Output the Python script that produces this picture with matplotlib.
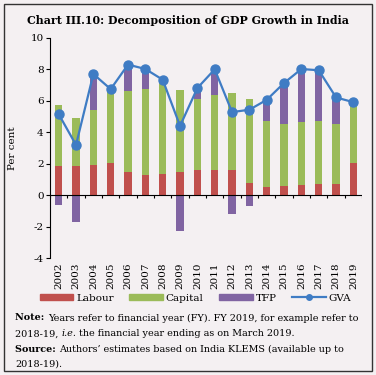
import numpy as np
import matplotlib
matplotlib.use('Agg')
import matplotlib.pyplot as plt
from matplotlib.patches import Rectangle, Patch
from matplotlib.lines import Line2D

plt.rcParams['font.family'] = ['DejaVu Serif']

# data (per cent)
years = ['2002', '2003', '2004', '2005', '2006', '2007', '2008', '2009', '2010',
         '2011', '2012', '2013', '2014', '2015', '2016', '2017', '2018', '2019']
labour = [1.87, 1.87, 1.91, 2.02, 1.49, 1.28, 1.34, 1.49, 1.60,
          1.60, 1.60, 0.74, 0.53, 0.60, 0.64, 0.70, 0.70, 2.06]
capital = [3.87, 3.03, 3.52, 4.58, 5.15, 5.49, 6.00, 5.17, 4.53,
           4.74, 4.89, 5.39, 4.21, 3.91, 3.98, 4.04, 3.83, 3.68]
tfp = [-0.60, -1.70, 2.27, 0.14, 1.66, 1.25, 0.00, -2.28, 0.68,
       1.64, -1.20, -0.72, 1.32, 2.62, 3.40, 3.20, 1.68, 0.17]
gva = [5.15, 3.19, 7.70, 6.74, 8.30, 8.02, 7.34, 4.40, 6.81,
       8.00, 5.28, 5.43, 6.06, 7.13, 8.02, 7.94, 6.21, 5.91]

BG = '#f4f0f2'
C_LAB = '#c0504d'
C_CAP = '#9bbb59'
C_TFP = '#8064a2'
C_GVA = '#3f7cc4'

fig = plt.figure(figsize=(3.76, 3.75), dpi=100, facecolor=BG)
fig.patches.append(Rectangle((0.011, 0.011), 0.978, 0.978, transform=fig.transFigure,
                             fill=False, edgecolor='#333333', linewidth=1.0))

fig.text(0.5, 0.945, 'Chart III.10: Decomposition of GDP Growth in India',
         ha='center', va='center', fontsize=7.9, fontweight='bold')

ax = fig.add_axes([0.133, 0.312, 0.83, 0.587])
ax.set_facecolor(BG)

x = np.arange(len(years))
lab = np.array(labour)
cap = np.array(capital)
tf = np.array(tfp)
w = 0.43
ax.bar(x, lab, w, color=C_LAB, zorder=2)
ax.bar(x, cap, w, bottom=lab, color=C_CAP, zorder=2)
tf_bottom = np.where(tf >= 0, lab + cap, 0)
ax.bar(x, tf, w, bottom=tf_bottom, color=C_TFP, zorder=2)
ax.plot(x, gva, color=C_GVA, lw=1.6, marker='o', markersize=6.5, zorder=3)

ax.set_xlim(-0.5, len(years) - 0.5)
ax.set_ylim(-4, 10)
ax.set_yticks(range(-4, 11, 2))
ax.set_yticklabels([str(v) for v in range(-4, 11, 2)], fontsize=7.5)
ax.set_xticks(x)
ax.set_xticklabels(years, rotation=90, fontsize=7.5)
ax.tick_params(axis='x', length=0, pad=3)
ax.tick_params(axis='y', length=3, width=0.8, pad=1.5)
for s in ['top', 'right', 'bottom']:
    ax.spines[s].set_visible(False)
ax.spines['left'].set_linewidth(0.8)
ax.axhline(0, color='black', lw=0.8, zorder=4)
ax.vlines(np.arange(-0.5, len(years)), -0.2, 0, color='black', lw=0.8, zorder=4)
ax.set_ylabel('Per cent', fontsize=7.5, labelpad=10)

handles = [Patch(color=C_LAB), Patch(color=C_CAP), Patch(color=C_TFP),
           Line2D([], [], color=C_GVA, lw=1.6, marker='o', markersize=4)]
fig.legend(handles, ['Labour', 'Capital', 'TFP', 'GVA'], loc='center',
           bbox_to_anchor=(0.52, 0.205), ncol=4, frameon=False, fontsize=7.5,
           handlelength=3.2, handleheight=0.6, columnspacing=1.5, handletextpad=0.3)

# note and source lines with mixed styles
fig.canvas.draw()
renderer = fig.canvas.get_renderer()


def runs(y, parts):
    xpos = 0.04
    for txt, kw in parts:
        t = fig.text(xpos, y, txt, fontsize=6.95, va='center', ha='left', **kw)
        bb = t.get_window_extent(renderer=renderer)
        xpos += bb.width / fig.bbox.width


runs(0.152, [('Note: ', {'fontweight': 'bold'}),
             ('Years refer to financial year (FY). FY 2019, for example refer to', {})])
runs(0.11, [('2018-19, ', {}), ('i.e.', {'style': 'italic'}),
            (' the financial year ending as on March 2019.', {})])
runs(0.069, [('Source: ', {'fontweight': 'bold'}),
             ('Authors\u2019 estimates based on India KLEMS (available up to', {})])
runs(0.029, [('2018-19).', {})])

fig.savefig('out.png', dpi=100, facecolor=BG)
